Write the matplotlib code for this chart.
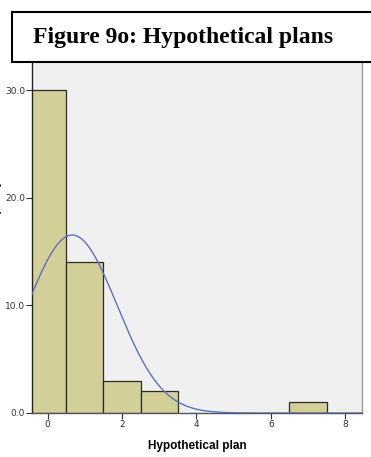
import numpy as np
import matplotlib
matplotlib.use("Agg")
import matplotlib.pyplot as plt
from matplotlib.patches import Rectangle

# histogram bins (centres) and counts
bin_centers = [0, 1, 2, 3, 7]
counts = [30, 14, 3, 2, 1]
bin_width = 1.0

x_ticks = [0, 2, 4, 6, 8]
y_ticks = [0, 10, 20, 30]

title = "Figure 9o: Hypothetical plans"
x_label = "Hypothetical plan"
y_label = "Frequency"

# normal curve fitted to the data
vals = np.repeat(bin_centers, counts)
n = len(vals)
mu = vals.mean()
sd = vals.std(ddof=1)

fig = plt.figure(figsize=(3.71, 4.57), dpi=100)
W, H = 371, 457
ax = fig.add_axes([32 / W, (H - 413) / H, 330 / W, (413 - 58) / H])
ax.set_facecolor("#f0f0f0")

ax.bar(bin_centers, counts, width=bin_width, color="#d3cf98",
       edgecolor="#2b2b2b", linewidth=0.9, zorder=2)

xs = np.linspace(-0.5, 8.5, 400)
ys = n * bin_width / (sd * np.sqrt(2 * np.pi)) * np.exp(-0.5 * ((xs - mu) / sd) ** 2)
ax.plot(xs, ys, color="#5a72c0", linewidth=1.0, zorder=3)

ax.set_xlim(-0.42, 8.45)
ax.set_ylim(0, 33.0)
ax.set_xticks(x_ticks)
ax.set_yticks(y_ticks)
ax.set_xticklabels([str(t) for t in x_ticks])
ax.set_yticklabels([f"{t:.1f}" for t in y_ticks])
ax.tick_params(axis="both", labelsize=6.5, labelcolor="#333333", length=4,
               width=0.8, color="#333333", pad=1)

ax.spines["top"].set_visible(False)
ax.spines["left"].set_color("#222222")
ax.spines["bottom"].set_color("#555555")
ax.spines["right"].set_color("#999999")
for s in ax.spines.values():
    s.set_linewidth(1.0)

ax.set_xlabel(x_label, fontsize=8.5, fontweight="bold", family="Liberation Sans", labelpad=8)
fig.text(-0.01, 0.55, y_label, rotation=90, fontsize=7.5, fontweight="bold",
         family="Liberation Sans", ha="center", va="center")

# title box
box = Rectangle((12 / W, (H - 62) / H), 370 / W, 50 / H, transform=fig.transFigure,
                facecolor="white", edgecolor="black", linewidth=1.5, zorder=10)
fig.add_artist(box)
fig.text(33 / W, (H - 38) / H, title, fontsize=17, fontweight="bold",
         family="Liberation Serif", ha="left", va="center", zorder=11)

fig.savefig("out.png", dpi=100)
